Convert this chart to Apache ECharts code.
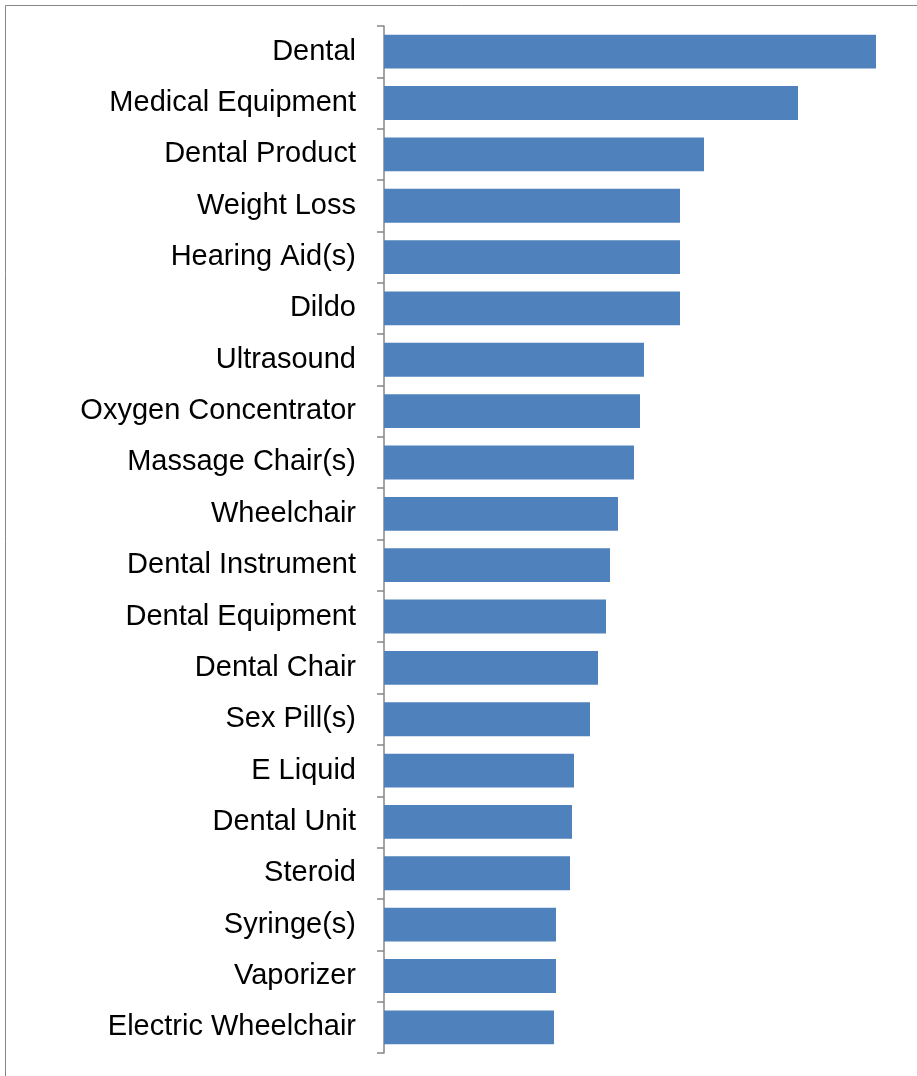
<!DOCTYPE html>
<html><head><meta charset="utf-8">
<script src="https://cdn.jsdelivr.net/npm/echarts@6/dist/echarts.min.js"></script>
<style>html,body{margin:0;padding:0;background:#fff}#c{width:917px;height:1076px}</style>
</head><body><div id="c"></div>
<script>
const categories = ["Dental","Medical Equipment","Dental Product","Weight Loss","Hearing Aid(s)","Dildo","Ultrasound","Oxygen Concentrator","Massage Chair(s)","Wheelchair","Dental Instrument","Dental Equipment","Dental Chair","Sex Pill(s)","E Liquid","Dental Unit","Steroid","Syringe(s)","Vaporizer","Electric Wheelchair"];
const values = [492,414,320,296,296,296,260,256,250,234,226,222,214,206,190,188,186,172,172,170];

const chart = echarts.init(document.getElementById('c'), null, {renderer:'canvas'});
chart.setOption({
  animation:false,
  graphic:[{type:'rect',shape:{x:5.5,y:5.5,width:1000,height:1200},style:{fill:'none',stroke:'#868686',lineWidth:1},silent:true}],
  grid:{left:384,top:26,width:533,bottom:1076-1053},
  xAxis:{type:'value',min:0,max:533,show:false},
  yAxis:{type:'category',data:categories,inverse:true,
    axisLine:{show:true,lineStyle:{color:'#868686',width:1.5}},
    axisTick:{show:true,alignWithLabel:false,length:7,lineStyle:{color:'#868686',width:1.5}},
    axisLabel:{color:'#000',fontFamily:'Liberation Sans, Arial, sans-serif',fontSize:29,margin:28}},
  series:[{type:'bar',data:values,barCategoryGap:'34%',itemStyle:{color:'#4F81BD'}}]
});
</script></body></html>
